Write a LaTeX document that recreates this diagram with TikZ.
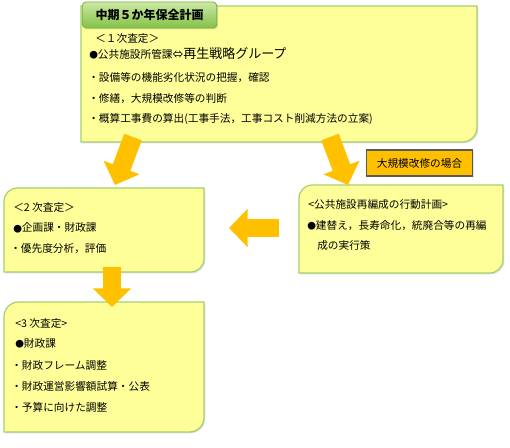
\documentclass[tikz,border=0pt]{standalone}
\usepackage{fontspec}
\setmainfont{Noto Sans CJK JP}
\usetikzlibrary{arrows.meta,shadows}

\definecolor{noteFill}{HTML}{FFFF99}
\definecolor{noteEdge}{HTML}{A3D06E}
\definecolor{tabTop}{HTML}{CBE9A5}
\definecolor{tabBottom}{HTML}{84C247}
\definecolor{tabEdge}{HTML}{7AAE3E}
\definecolor{caseFill}{HTML}{FFC000}
\definecolor{caseEdge}{HTML}{5A5A5A}
\definecolor{gold}{HTML}{FFC000}

\begin{document}
\begin{tikzpicture}[x=0.75pt, y=0.75pt,
    panel/.style={fill=noteFill, draw=noteEdge, line width=0.9pt,
        drop shadow={shadow xshift=1pt, shadow yshift=-1pt, opacity=0.25}},
    txt/.style={anchor=base west, inner sep=0pt, font=\fontsize{8}{10}\selectfont},
    bigarrow/.style={draw=gold, line width=14pt, -{Triangle[length=14pt, width=28pt]}},
]
\useasboundingbox (0,0) rectangle (510,447);

% Panel 1 -- top
\coordinate (plan-nw) at (81,441);
\coordinate (plan-se) at (477,305);
\draw[panel] (plan-nw) -- (plan-se |- plan-nw) -- ([yshift=11pt]plan-se)
    arc[start angle=0, end angle=-90, radius=11pt] -- (plan-nw |- plan-se) -- cycle;

% Panel 2 -- left
\coordinate (second-nw) at (4,259);
\coordinate (second-se) at (204,175);
\draw[panel] ([yshift=-10pt]second-nw) arc[start angle=180, end angle=90, radius=10pt]
    -- (second-se |- second-nw) -- ([yshift=10pt]second-se)
    arc[start angle=0, end angle=-90, radius=10pt] -- (second-nw |- second-se) -- cycle;

% Panel 3 -- bottom-left
\coordinate (third-nw) at (4,145);
\coordinate (third-se) at (204,15);
\draw[panel] ([yshift=-11pt]third-nw) arc[start angle=180, end angle=90, radius=11pt]
    -- (third-se |- third-nw) -- ([yshift=11pt]third-se)
    arc[start angle=0, end angle=-90, radius=11pt] -- (third-nw |- third-se) -- cycle;

% Panel 4 -- right
\coordinate (regroup-nw) at (299,262);
\coordinate (regroup-se) at (503,174);
\draw[panel] ([yshift=-10pt]regroup-nw) arc[start angle=180, end angle=90, radius=10pt]
    -- (regroup-se |- regroup-nw) -- ([yshift=10pt]regroup-se)
    arc[start angle=0, end angle=-90, radius=10pt] -- (regroup-nw |- regroup-se) -- cycle;

% Title tab and case label
\node[rounded corners=3pt, top color=tabTop, bottom color=tabBottom, draw=tabEdge,
    line width=0.6pt, minimum width=101pt, minimum height=19.5pt,
    font=\bfseries\fontsize{9}{11}\selectfont,
    drop shadow={shadow xshift=1pt, shadow yshift=-1pt, opacity=0.3}]
    (title) at (149.5,432) {中期５か年保全計画};
\node[fill=caseFill, draw=caseEdge, line width=0.8pt, minimum width=80pt,
    minimum height=19.5pt, font=\fontsize{8}{10}\selectfont,
    drop shadow={shadow xshift=0.8pt, shadow yshift=-0.8pt, opacity=0.25}]
    (case) at (419.5,284) {大規模改修の場合};

% Texts
\foreach \x/\y/\t [count=\i] in {
    95/404/{＜１次査定＞},
    89/388/{{\fontsize{6.5}{8}\selectfont ●}公共施設所管課⇔{\fontsize{9.75}{12}\selectfont 再生戦略グループ}},
    88/365/{・設備等の機能劣化状況の把握，確認},
    88/344/{・修繕，大規模改修等の判断},
    88/324/{・概算工事費の算出(工事手法，工事コスト削減方法の立案)}} {
    \node[txt] (plan-\i) at (\x,\y) {\t};
}
\foreach \x/\y/\t [count=\i] in {
    13/236/{＜2 次査定＞},
    13/215/{{\fontsize{6.5}{8}\selectfont ●}企画課・財政課},
    10/195/{・優先度分析，評価}} {
    \node[txt] (second-\i) at (\x,\y) {\t};
}
\foreach \x/\y/\t [count=\i] in {
    15/120/{<3 次査定>},
    15/100/{{\fontsize{6.5}{8}\selectfont ●}財政課},
    11/78/{・財政フレーム調整},
    11/57/{・財政運営影響額試算・公表},
    11/36/{・予算に向けた調整}} {
    \node[txt] (third-\i) at (\x,\y) {\t};
}
\foreach \x/\y/\t [count=\i] in {
    308/239/{<公共施設再編成の行動計画>},
    307/218/{{\fontsize{6.5}{8}\selectfont ●}建替え，長寿命化，統廃合等の再編},
    317/198/{成の実行策}} {
    \node[txt] (regroup-\i) at (\x,\y) {\t};
}

% Arrows
\coordinate (a1-from) at (133,310);
\coordinate (a1-to) at (115,262);
\coordinate (a2-from) at (330,310);
\coordinate (a2-to) at (348,262);
\coordinate (a3-from) at (279,219);
\coordinate (a3-to) at (229,219);
\coordinate (a4-from) at (112,180);
\coordinate (a4-to) at (112,140);
\foreach \n in {1,...,4} {
    \draw[bigarrow] (a\n-from) -- (a\n-to);
}

\end{tikzpicture}
\end{document}
